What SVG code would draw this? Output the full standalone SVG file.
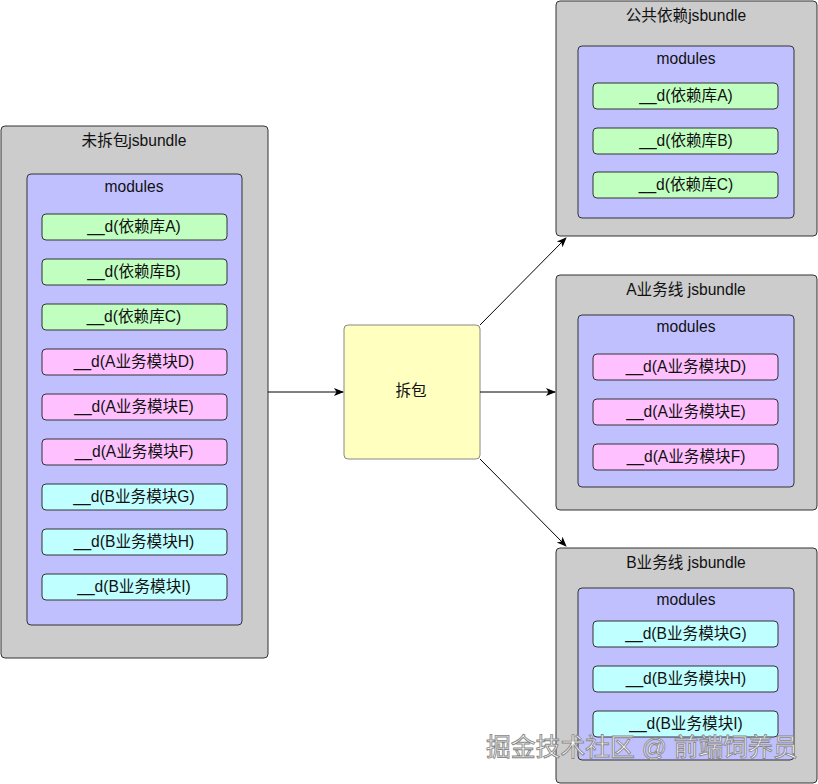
<svg xmlns="http://www.w3.org/2000/svg" width="818" height="784" viewBox="0 0 818 784">
<defs>
<marker id="ah" viewBox="0 0 10 10" refX="9" refY="5" markerWidth="10" markerHeight="10" markerUnits="userSpaceOnUse" orient="auto">
<path d="M0,1 L10,5 L0,9 L2.5,5 z" fill="#000"/>
</marker>
<style>
.outer{fill:#cccccc;stroke:#333;stroke-width:1}
.inner{fill:#c0c0ff;stroke:#333;stroke-width:1}
.g{fill:#c0ffc0;stroke:#333;stroke-width:1}
.p{fill:#ffc0ff;stroke:#333;stroke-width:1}
.c{fill:#c0ffff;stroke:#333;stroke-width:1}
.y{fill:#ffffc0;stroke:#888;stroke-width:1}
text{font-family:"Liberation Sans","Noto Sans CJK SC",sans-serif;font-size:15.6px;fill:#111;text-anchor:middle;dominant-baseline:central}
.conn{stroke:#000;stroke-width:1;fill:none;marker-end:url(#ah)}
.wm{font-size:24.8px;fill:#fff;stroke:#888;stroke-width:0.9;text-anchor:start}
</style>
</defs>

<g id="left">
<rect class="outer" x="1" y="126" width="267" height="532" rx="4"/>
<text x="134" y="140">未拆包jsbundle</text>
<rect class="inner" x="27" y="174" width="215" height="451" rx="4"/>
<text x="134" y="186">modules</text>
<rect class="g" x="42" y="214" width="185" height="26" rx="4"/><text x="134" y="226">__d(依赖库A)</text>
<rect class="g" x="42" y="259" width="185" height="26" rx="4"/><text x="134" y="271">__d(依赖库B)</text>
<rect class="g" x="42" y="304" width="185" height="26" rx="4"/><text x="134" y="316">__d(依赖库C)</text>
<rect class="p" x="42" y="349" width="185" height="26" rx="4"/><text x="134" y="361">__d(A业务模块D)</text>
<rect class="p" x="42" y="394" width="185" height="26" rx="4"/><text x="134" y="406">__d(A业务模块E)</text>
<rect class="p" x="42" y="439" width="185" height="26" rx="4"/><text x="134" y="451">__d(A业务模块F)</text>
<rect class="c" x="42" y="484" width="185" height="26" rx="4"/><text x="134" y="496">__d(B业务模块G)</text>
<rect class="c" x="42" y="529" width="185" height="26" rx="4"/><text x="134" y="541">__d(B业务模块H)</text>
<rect class="c" x="42" y="574" width="185" height="26" rx="4"/><text x="134" y="586">__d(B业务模块I)</text>
</g>

<g id="split">
<rect class="y" x="344" y="325" width="136" height="134" rx="4"/>
<text x="411" y="390">拆包</text>
</g>

<g id="common">
<rect class="outer" x="556" y="1" width="261" height="235" rx="4"/>
<text x="686" y="15">公共依赖jsbundle</text>
<rect class="inner" x="578" y="46" width="216" height="172" rx="4"/>
<text x="686" y="58">modules</text>
<rect class="g" x="593" y="83" width="185" height="26" rx="4"/><text x="686" y="95">__d(依赖库A)</text>
<rect class="g" x="593" y="128" width="185" height="26" rx="4"/><text x="686" y="140">__d(依赖库B)</text>
<rect class="g" x="593" y="172" width="185" height="26" rx="4"/><text x="686" y="184">__d(依赖库C)</text>
</g>

<g id="bundleA">
<rect class="outer" x="556" y="275" width="261" height="235" rx="4"/>
<text x="686" y="289">A业务线 jsbundle</text>
<rect class="inner" x="578" y="315" width="216" height="172" rx="4"/>
<text x="686" y="326">modules</text>
<rect class="p" x="593" y="354" width="185" height="26" rx="4"/><text x="686" y="366">__d(A业务模块D)</text>
<rect class="p" x="593" y="399" width="185" height="26" rx="4"/><text x="686" y="411">__d(A业务模块E)</text>
<rect class="p" x="593" y="444" width="185" height="26" rx="4"/><text x="686" y="456">__d(A业务模块F)</text>
</g>

<g id="bundleB">
<rect class="outer" x="556" y="548" width="261" height="235" rx="4"/>
<text x="686" y="562">B业务线 jsbundle</text>
<rect class="inner" x="578" y="588" width="216" height="172" rx="4"/>
<text x="686" y="599">modules</text>
<rect class="c" x="593" y="621" width="185" height="26" rx="4"/><text x="686" y="633">__d(B业务模块G)</text>
<rect class="c" x="593" y="666" width="185" height="26" rx="4"/><text x="686" y="678">__d(B业务模块H)</text>
<rect class="c" x="593" y="711" width="185" height="26" rx="4"/><text x="686" y="723">__d(B业务模块I)</text>
</g>

<g id="connectors">
<line class="conn" x1="268" y1="392" x2="343" y2="392"/>
<line class="conn" x1="480" y1="392" x2="555" y2="392"/>
<line class="conn" x1="480" y1="325" x2="566" y2="238"/>
<line class="conn" x1="480" y1="459" x2="566" y2="546"/>
</g>

<text class="wm" x="486" y="747">掘金技术社区 @ 前端饲养员</text>
</svg>
